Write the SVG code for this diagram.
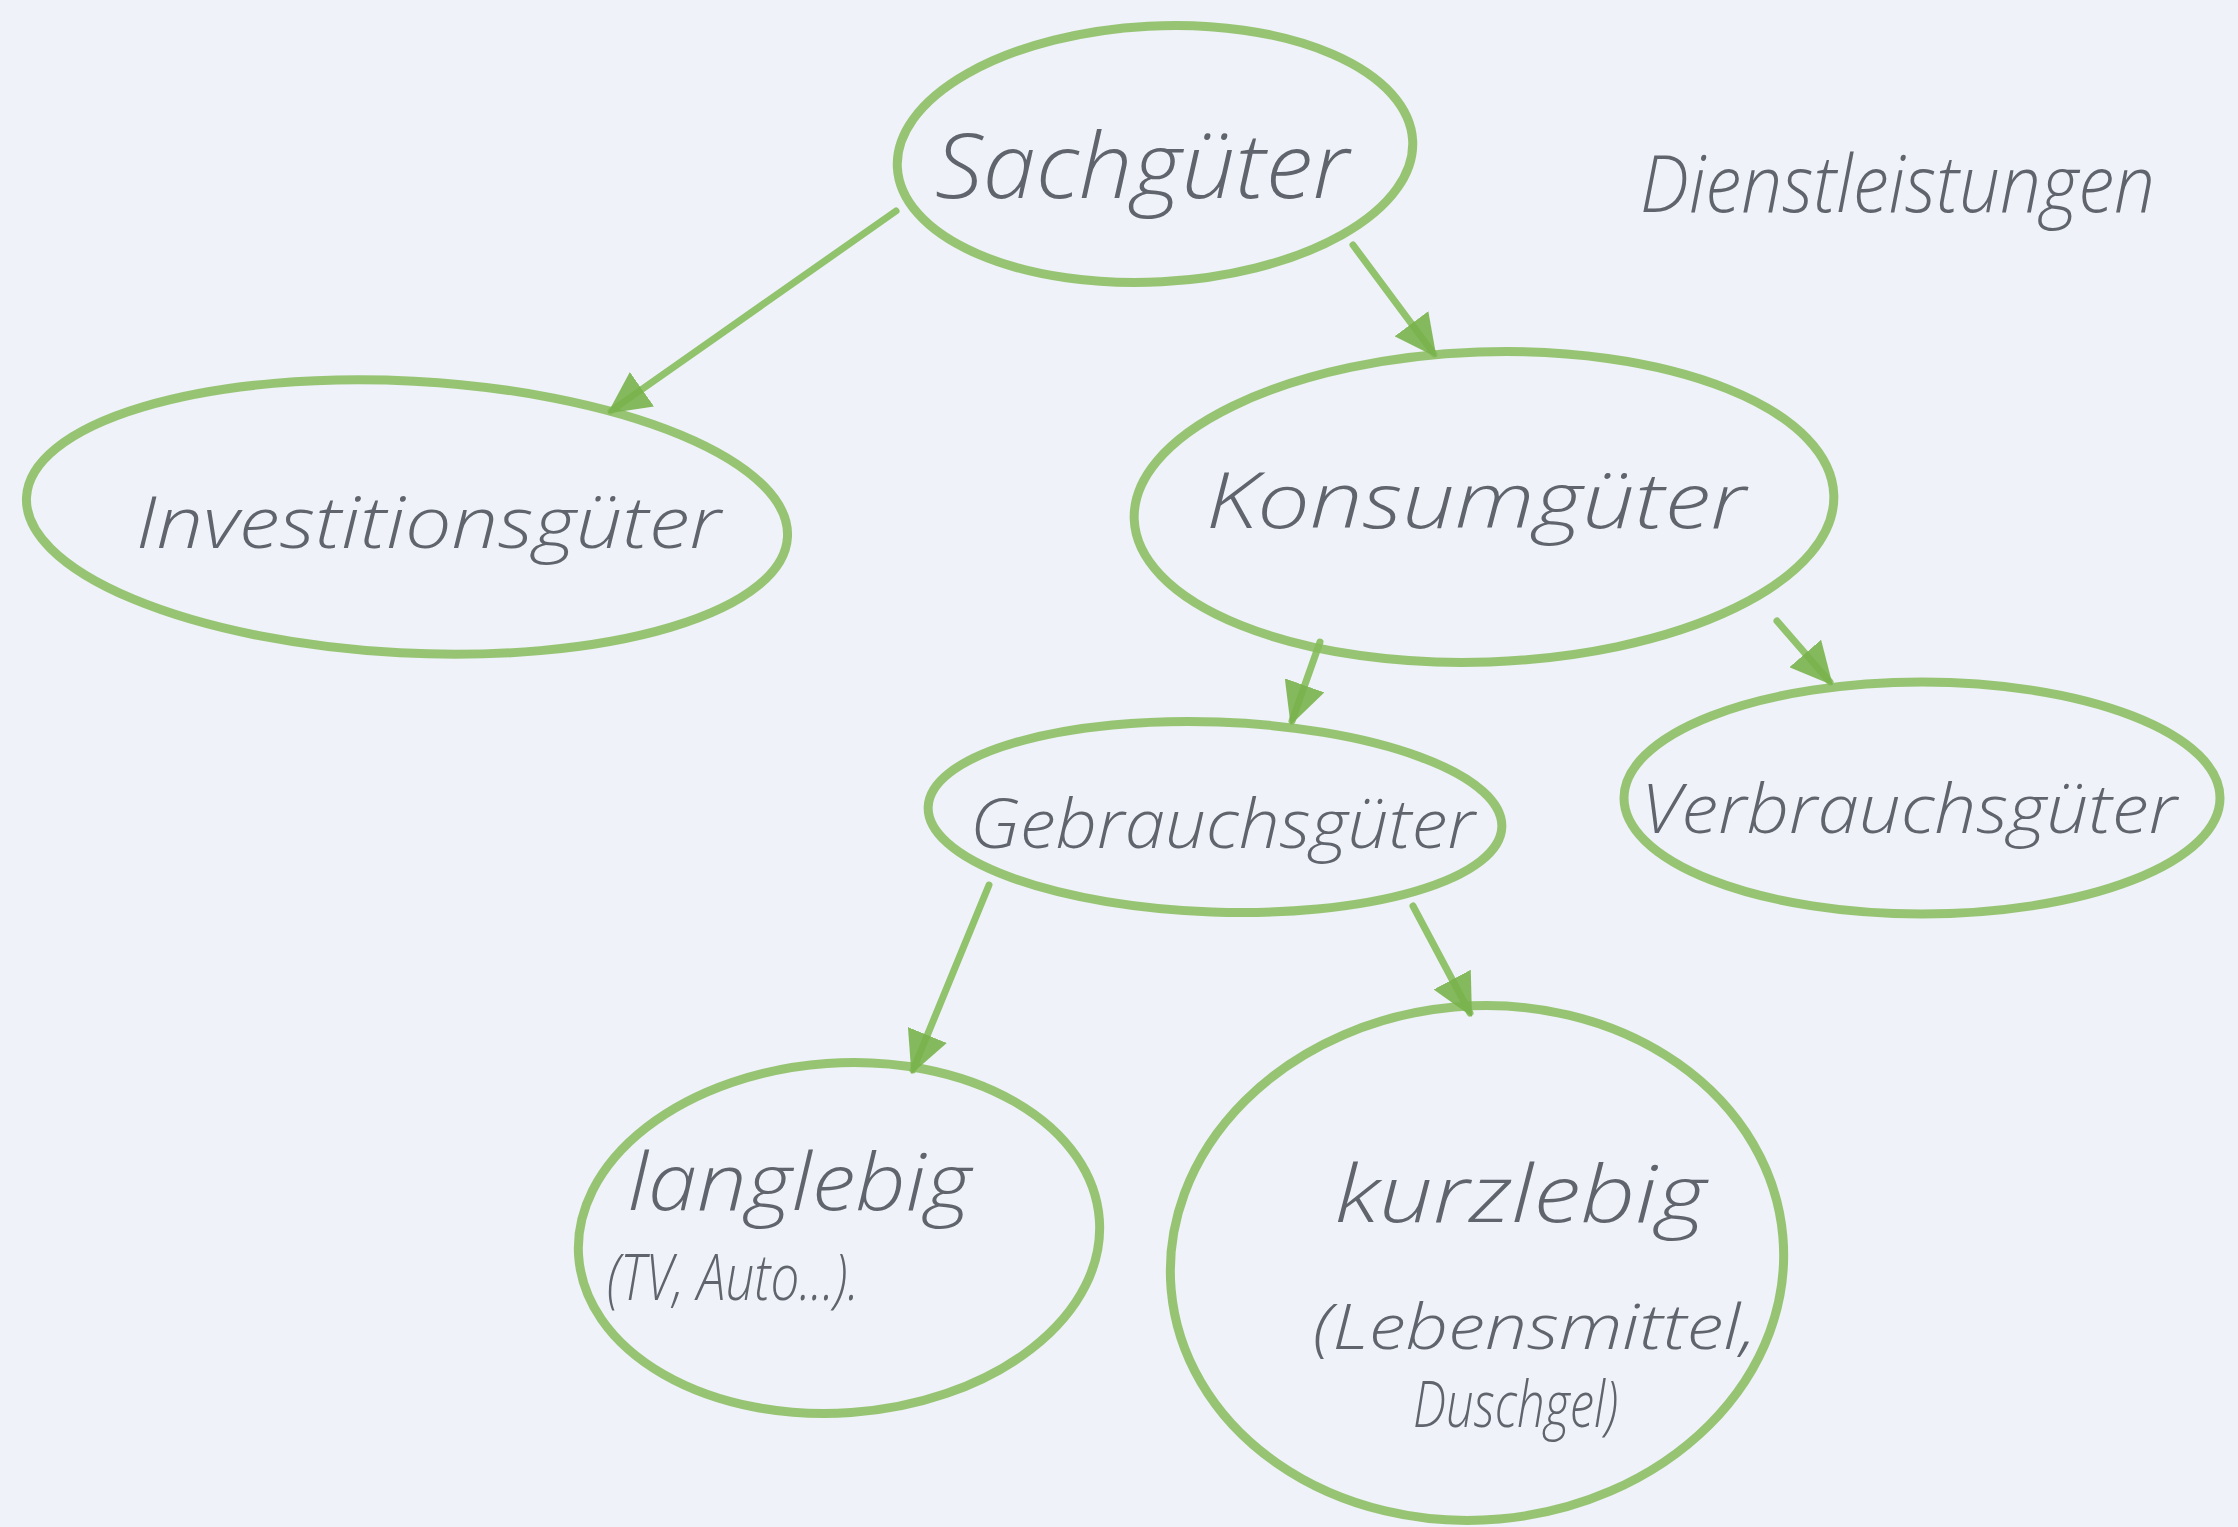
<svg xmlns="http://www.w3.org/2000/svg" width="2238" height="1527" viewBox="0 0 2238 1527">
<style>
.node{fill:none;stroke:#86bc5c;stroke-width:9;stroke-opacity:0.85}
.lbl{font-family:"Open Sans","Liberation Sans","DejaVu Sans",sans-serif;font-style:italic;font-weight:300;fill:#60646d}
.con{fill:none;stroke:#86bc5c;stroke-width:7;stroke-linecap:round;stroke-opacity:0.9}
</style>
<defs>
<marker id="ah" viewBox="0 0 10 10" refX="9" refY="5" markerWidth="6" markerHeight="6" orient="auto" markerUnits="strokeWidth">
<path d="M0,0 L10,5 L0,10 Z" fill="#79b34c" fill-opacity="0.9"/>
</marker>
</defs>
<rect width="2238" height="1527" fill="#eff2f8"/>
<g id="sachgueter">
<ellipse class="node" cx="1155" cy="154" rx="258" ry="128" transform="rotate(-3 1155 154)"/>
<text class="lbl" x="935" y="198" font-size="90" textLength="414" lengthAdjust="spacingAndGlyphs">Sachgüter</text>
</g>
<g id="dienstleistungen">
<text class="lbl" x="1640" y="212" font-size="80" textLength="515" lengthAdjust="spacingAndGlyphs">Dienstleistungen</text>
</g>
<g id="investitionsgueter">
<ellipse class="node" cx="407" cy="517" rx="381" ry="136" transform="rotate(3 407 517)"/>
<text class="lbl" x="136" y="548" font-size="72" textLength="585" lengthAdjust="spacingAndGlyphs">Investitionsgüter</text>
</g>
<g id="konsumgueter">
<ellipse class="node" cx="1484" cy="507" rx="350" ry="155" transform="rotate(-2 1484 507)"/>
<text class="lbl" x="1206" y="528" font-size="78" textLength="540" lengthAdjust="spacingAndGlyphs">Konsumgüter</text>
</g>
<g id="gebrauchsgueter">
<ellipse class="node" cx="1215" cy="817" rx="287" ry="95" transform="rotate(2 1215 817)"/>
<text class="lbl" x="970" y="848" font-size="68" textLength="505" lengthAdjust="spacingAndGlyphs">Gebrauchsgüter</text>
</g>
<g id="verbrauchsgueter">
<ellipse class="node" cx="1922" cy="798" rx="298" ry="116"/>
<text class="lbl" x="1641" y="833" font-size="68" textLength="536" lengthAdjust="spacingAndGlyphs">Verbrauchsgüter</text>
</g>
<g id="langlebig">
<ellipse class="node" cx="839" cy="1238" rx="261" ry="175" transform="rotate(-4 839 1238)"/>
<text class="lbl" x="628" y="1210" font-size="80" textLength="343" lengthAdjust="spacingAndGlyphs">langlebig</text>
<text class="lbl" x="607" y="1300" font-size="64" textLength="252" lengthAdjust="spacingAndGlyphs">(TV, Auto...).</text>
</g>
<g id="kurzlebig">
<ellipse class="node" cx="1477" cy="1263" rx="307" ry="257" transform="rotate(-5 1477 1263)"/>
<text class="lbl" x="1335" y="1222" font-size="80" textLength="371" lengthAdjust="spacingAndGlyphs">kurzlebig</text>
<text class="lbl" x="1313" y="1349" font-size="62" textLength="443" lengthAdjust="spacingAndGlyphs">(Lebensmittel,</text>
<text class="lbl" x="1413" y="1427" font-size="64" textLength="205" lengthAdjust="spacingAndGlyphs">Duschgel)</text>
</g>
<g id="connectors">
<path class="con" d="M896,211 L611,411" marker-end="url(#ah)"/>
<path class="con" d="M1353,245 L1434,354" marker-end="url(#ah)"/>
<path class="con" d="M1320,642 L1292,721" marker-end="url(#ah)"/>
<path class="con" d="M1777,621 L1830,682" marker-end="url(#ah)"/>
<path class="con" d="M989,885 L913,1070" marker-end="url(#ah)"/>
<path class="con" d="M1413,906 L1470,1013" marker-end="url(#ah)"/>
</g>
</svg>
